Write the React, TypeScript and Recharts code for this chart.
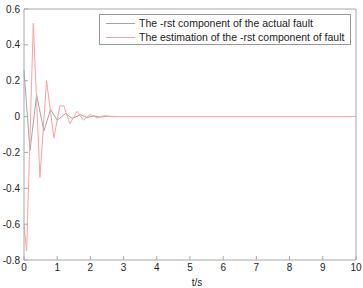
import React from 'react';
import { LineChart, Line, XAxis, YAxis, Legend } from 'recharts';

// actual fault, first component (sampled from the figure)
const actualT = [0, 0.18, 0.38, 0.6, 0.8, 1.0, 1.25, 1.45, 1.7, 1.9, 2.1, 2.3, 2.5, 2.75];
const actualV = [0.26, -0.19, 0.12, -0.08, 0.04, -0.02, 0.017, -0.01, 0.01, -0.005, 0.004, -0.003, 0.002, 0];

// estimated fault, first component
const estT = [0, 0.08, 0.28, 0.48, 0.68, 0.9, 1.08, 1.2, 1.38, 1.6, 1.79, 2.0, 2.2, 2.4, 2.6, 10];
const estV = [-0.6, -0.75, 0.52, -0.34, 0.2, -0.12, 0.06, 0.06, -0.04, 0.03, -0.02, 0.012, -0.008, 0.005, 0, 0];

const xTicks = [0, 1, 2, 3, 4, 5, 6, 7, 8, 9, 10];
const yTicks = [-0.8, -0.6, -0.4, -0.2, 0, 0.2, 0.4, 0.6];

const actualName = 'The -rst component of the actual fault';
const estName = 'The estimation of the -rst component of fault';

const actualData = actualT.map((t, i) => ({ t, v: actualV[i] }));
const estData = estT.map((t, i) => ({ t, v: estV[i] }));

const axisColor = '#a8a8a8';
const grayLine = '#a4a4a4';
const redLine = '#ffa0a0';
const tickStyle = { fontSize: 10, fill: '#222', fontFamily: 'Liberation Sans, Arial, sans-serif' };
const fmtY = (v: number) => (v === 0 ? '0' : String(Number(v.toFixed(1))));
const blank = () => '';

const LegendBox = (props: any) => {
  const items = props.payload && props.payload.length
    ? props.payload
    : [
        { value: actualName, color: grayLine },
        { value: estName, color: redLine },
      ];
  return (
    <div
      style={{
        border: '1px solid #999',
        background: '#fff',
        width: 252,
        height: 31,
        boxSizing: 'border-box',
        padding: '1px 0 0 6px',
        fontFamily: 'Liberation Sans, Arial, sans-serif',
        fontSize: 10.5,
        color: '#222',
        lineHeight: '14px',
      }}
    >
      {items.map((it: any) => (
        <div key={it.value} style={{ display: 'flex', alignItems: 'center', whiteSpace: 'nowrap' }}>
          <span style={{ display: 'inline-block', width: 29, height: 1, background: it.color, marginRight: 4 }} />
          <span>{it.value}</span>
        </div>
      ))}
    </div>
  );
};

export default function App() {
  return (
    <div style={{ position: 'absolute', left: 0, top: 0, background: '#fff' }}>
      <LineChart width={363} height={288} margin={{ top: 8, right: 6, left: 0, bottom: 0 }}>
        <XAxis
          dataKey="t"
          type="number"
          domain={[0, 10]}
          ticks={xTicks}
          interval={0}
          height={28}
          stroke={axisColor}
          tickSize={-4}
          tickMargin={8}
          tick={tickStyle}
          label={{ value: 't/s', position: 'insideBottom', offset: 2, dx: 7, style: tickStyle }}
        />
        <XAxis
          xAxisId="top"
          orientation="top"
          dataKey="t"
          type="number"
          domain={[0, 10]}
          ticks={xTicks}
          interval={0}
          height={1}
          stroke={axisColor}
          tickSize={-4}
          tickFormatter={blank}
        />
        <YAxis
          type="number"
          domain={[-0.8, 0.6]}
          ticks={yTicks}
          interval={0}
          width={24}
          stroke={axisColor}
          tickSize={-4}
          tickMargin={8}
          tick={tickStyle}
          tickFormatter={fmtY}
        />
        <YAxis
          yAxisId="right"
          orientation="right"
          type="number"
          domain={[-0.8, 0.6]}
          ticks={yTicks}
          interval={0}
          width={1}
          stroke={axisColor}
          tickSize={-4}
          tickFormatter={blank}
        />
        <Legend
          layout="vertical"
          align="center"
          verticalAlign="middle"
          content={LegendBox}
          wrapperStyle={{ left: 99, top: 14, width: 252 }}
        />
        <Line
          data={actualData}
          dataKey="v"
          name={actualName}
          stroke={grayLine}
          strokeWidth={1}
          dot={false}
          isAnimationActive={false}
        />
        <Line
          data={estData}
          dataKey="v"
          name={estName}
          stroke={redLine}
          strokeWidth={1}
          dot={false}
          isAnimationActive={false}
        />
      </LineChart>
    </div>
  );
}
